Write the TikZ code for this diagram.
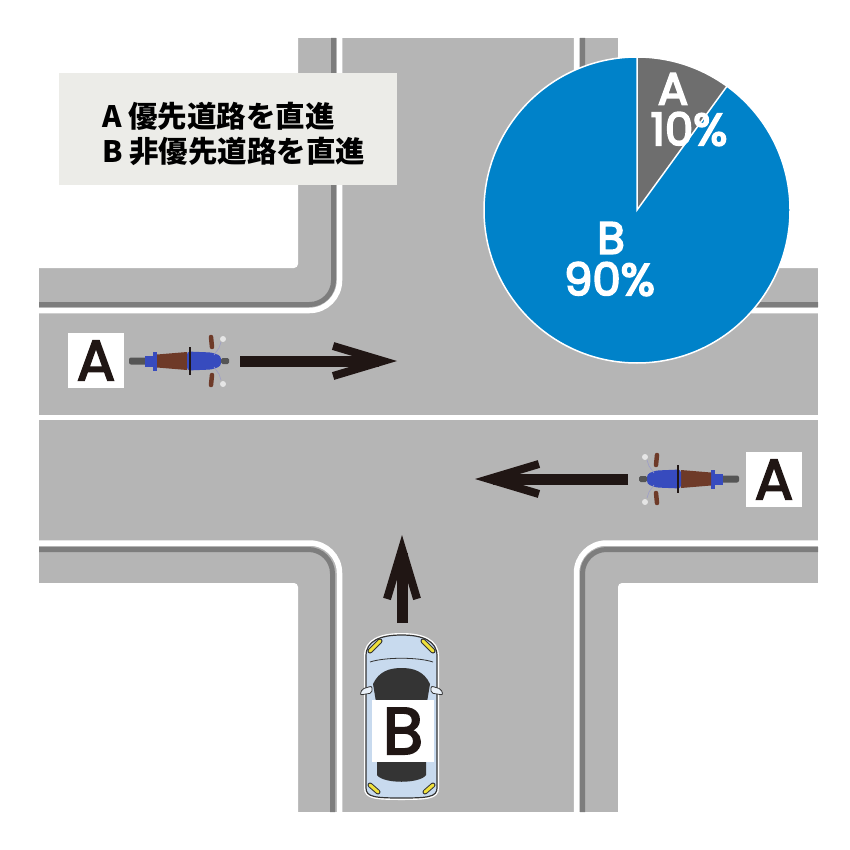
\documentclass[tikz,border=0pt]{standalone}
\usepackage{fontspec}
\newfontfamily\jpfont{Noto Sans CJK JP}
\newfontfamily\labelfont{Poppins}[FakeBold=4]
\newfontfamily\roadfont{Poppins}[FakeBold=3]
\usetikzlibrary{arrows.meta}

\definecolor{roadgray}{RGB}{181,181,181}
\definecolor{curbgray}{RGB}{125,125,125}
\definecolor{legendgray}{RGB}{236,236,232}
\definecolor{pieblue}{RGB}{0,130,201}
\definecolor{piegray}{RGB}{110,110,110}
\definecolor{arrowblack}{RGB}{32,22,20}
\definecolor{motoblue}{RGB}{55,75,190}
\definecolor{motobrown}{RGB}{110,58,40}
\definecolor{tiregray}{RGB}{85,85,85}
\definecolor{carblue}{RGB}{200,218,238}
\definecolor{carline}{RGB}{52,52,52}
\definecolor{carlight}{RGB}{240,225,60}

\tikzset{
  block/.style={fill=white, rounded corners=4pt},
  curbdark/.style={draw=curbgray, line width=5pt},
  curbwhite/.style={draw=white, line width=5.5pt},
  goarrow/.style={draw=arrowblack, line width=11pt, -{Straight Barb[length=50pt,width=30pt,line width=8pt]}},
  legendbox/.style={fill=legendgray, minimum width=338pt, minimum height=112pt, inner sep=0pt},
  legendtext/.style={font=\jpfont\bfseries\fontsize{29.5}{35}\selectfont, align=left, inner sep=0pt},
  roadlabel/.style={fill=white, inner sep=0pt, minimum width=56pt, minimum height=55pt, font=\roadfont\fontsize{57}{57}\selectfont, text=arrowblack},
  pielabel/.style={text=white, font=\labelfont\fontsize{45}{45}\selectfont, inner sep=0pt},
  carbody/.style={fill=carblue, draw=carline, line width=1.2pt, preaction={draw=white, line width=4pt}},
}

\begin{document}
\begin{tikzpicture}[x=1pt, y=-1pt]
    \useasboundingbox (0,0) rectangle (850,850);

    % road and blocks
    \fill[roadgray] (39,38) rectangle (818,812);
    \fill[block] (-20,-20) rectangle (298,268);
    \fill[block] (618,-20) rectangle (870,268);
    \fill[block] (-20,583) rectangle (298,870);
    \fill[block] (618,583) rectangle (870,870);

    % curbs
    \draw[curbdark, rounded corners=24pt] (39,304.5) -- (333.5,304.5) -- (333.5,38);
    \draw[curbwhite, rounded corners=30pt] (39,310.5) -- (339.5,310.5) -- (339.5,38);
    \draw[curbdark, rounded corners=24pt] (818,304.5) -- (582.5,304.5) -- (582.5,38);
    \draw[curbwhite, rounded corners=30pt] (818,310.5) -- (576.5,310.5) -- (576.5,38);
    \draw[curbdark, rounded corners=24pt] (39,549.5) -- (332.5,549.5) -- (332.5,812);
    \draw[curbwhite, rounded corners=30pt] (39,543) -- (339.5,543) -- (339.5,812);
    \draw[curbdark, rounded corners=24pt] (818,549.5) -- (582.5,549.5) -- (582.5,812);
    \draw[curbwhite, rounded corners=30pt] (818,543) -- (576.5,543) -- (576.5,812);

    % centre line
    \draw[white, line width=4.5pt] (39,417.5) -- (818,417.5);

    % pie
    \begin{scope}[shift={(637,210)}, yscale=-1]
        \fill[pieblue] (0,0) -- (90:153) arc[start angle=90, end angle=414, radius=153] -- cycle;
        \fill[piegray] (0,0) -- (54:153) arc[start angle=54, end angle=90, radius=153] -- cycle;
        \draw[white, line width=1.5pt] (0,0) circle[radius=153];
        \draw[white, line width=1.5pt] (90:153) -- (0,0) -- (54:153);
    \end{scope}
    \node[pielabel] (pieA) at (673,89) {A};
    \node[pielabel] (pieAval) at (689,129) {10\%};
    \node[pielabel] (pieB) at (611,238) {B};
    \node[pielabel] (pieBval) at (609.5,279) {90\%};

    % legend
    \node[legendbox] (legend) at (228,129) {};
    \node[legendtext, anchor=west] (legendtxt) at (102,134) {A 優先道路を直進\\B 非優先道路を直進};

    % motorcycles
    \foreach \mx/\my/\dir in {190/361/1, 678/479/-1}{
        \begin{scope}[shift={(\mx,\my)}, xscale=\dir]
            \fill[tiregray, rounded corners=2pt] (-61,-3.5) rectangle (-43,3.5);
            \fill[motoblue] (-45,-5.5) rectangle (-32,5.5);
            \fill[motoblue] (-37,-9.5) rectangle (-33,9.5);
            \fill[motobrown] (-33,-6.5) -- (-3,-9) -- (-3,9) -- (-33,6.5) -- cycle;
            \fill[motoblue, rounded corners=3pt] (-3,-9.5) -- (22,-8.5) -- (31,-5) -- (31,5) -- (22,8.5) -- (-3,9.5) -- cycle;
            \draw[arrowblack, line width=2.5pt] (0,-14) -- (0,14);
            \fill[tiregray, rounded corners=1.5pt] (31,-3) rectangle (39,3);
            \draw[motobrown, line width=4.5pt, line cap=round] (22,-14) -- (21,-24);
            \draw[motobrown, line width=4.5pt, line cap=round] (22,14) -- (21,24);
            \draw[blue!30!gray!60, line width=0.6pt] (24,-6) -- (29,-13) -- (31,-19);
            \draw[blue!30!gray!60, line width=0.6pt] (24,6) -- (29,13) -- (31,19);
            \fill[gray!20] (33,-22) circle[radius=3];
            \fill[gray!20] (33,23) circle[radius=3];
        \end{scope}
    }

    % arrows
    \draw[goarrow] (240,361) -- (397,361);
    \draw[goarrow] (628,479) -- (475,479);
    \draw[goarrow] (402,623) -- (402,535);

    % car
    \draw[carbody] (366,788) -- (366,656) .. controls (366,641) and (380,635) .. (401.5,635)
        .. controls (423,635) and (437,641) .. (437,656) -- (437,788)
        .. controls (437,797) and (428,798) .. (401.5,798) .. controls (375,798) and (366,797) .. (366,788) -- cycle;
    \draw[carline, line width=5pt, line cap=round] (370,651) -- (380,641);
    \draw[carline, line width=5pt, line cap=round] (433,651) -- (423,641);
    \draw[carlight, line width=3pt, line cap=round] (370,651) -- (380,641);
    \draw[carlight, line width=3pt, line cap=round] (433,651) -- (423,641);
    \draw[carline, line width=0.8pt] (370,662) .. controls (385,657) and (418,657) .. (433,662);
    \fill[carline] (373,684) .. controls (379,671) and (390,668) .. (401.5,668)
        .. controls (413,668) and (424,671) .. (430,684) -- (427,702) -- (376,702) -- cycle;
    \filldraw[fill=carblue!40!white, draw=carline, line width=0.8pt, rounded corners=2pt]
        (360,695) -- (362,689) -- (372,686) -- (372,693) -- cycle;
    \filldraw[fill=carblue!40!white, draw=carline, line width=0.8pt, rounded corners=2pt]
        (443,695) -- (441,689) -- (431,686) -- (431,693) -- cycle;
    \fill[carline] (377,760) -- (426,760) -- (426,775) .. controls (420,784) and (383,784) .. (377,775) -- cycle;
    \draw[carline, line width=5pt, line cap=round] (370,785) -- (378,792);
    \draw[carline, line width=5pt, line cap=round] (433,785) -- (425,792);
    \draw[carlight, line width=3pt, line cap=round] (370,785) -- (378,792);
    \draw[carlight, line width=3pt, line cap=round] (433,785) -- (425,792);

    % labels
    \node[roadlabel] (labelAleft) at (96,360.5) {A};
    \node[roadlabel] (labelAright) at (774,479.5) {A};
    \node[roadlabel, minimum width=62pt, minimum height=62pt, font=\roadfont\fontsize{66}{66}\selectfont] (labelB) at (403,731) {B};

\end{tikzpicture}
\end{document}
